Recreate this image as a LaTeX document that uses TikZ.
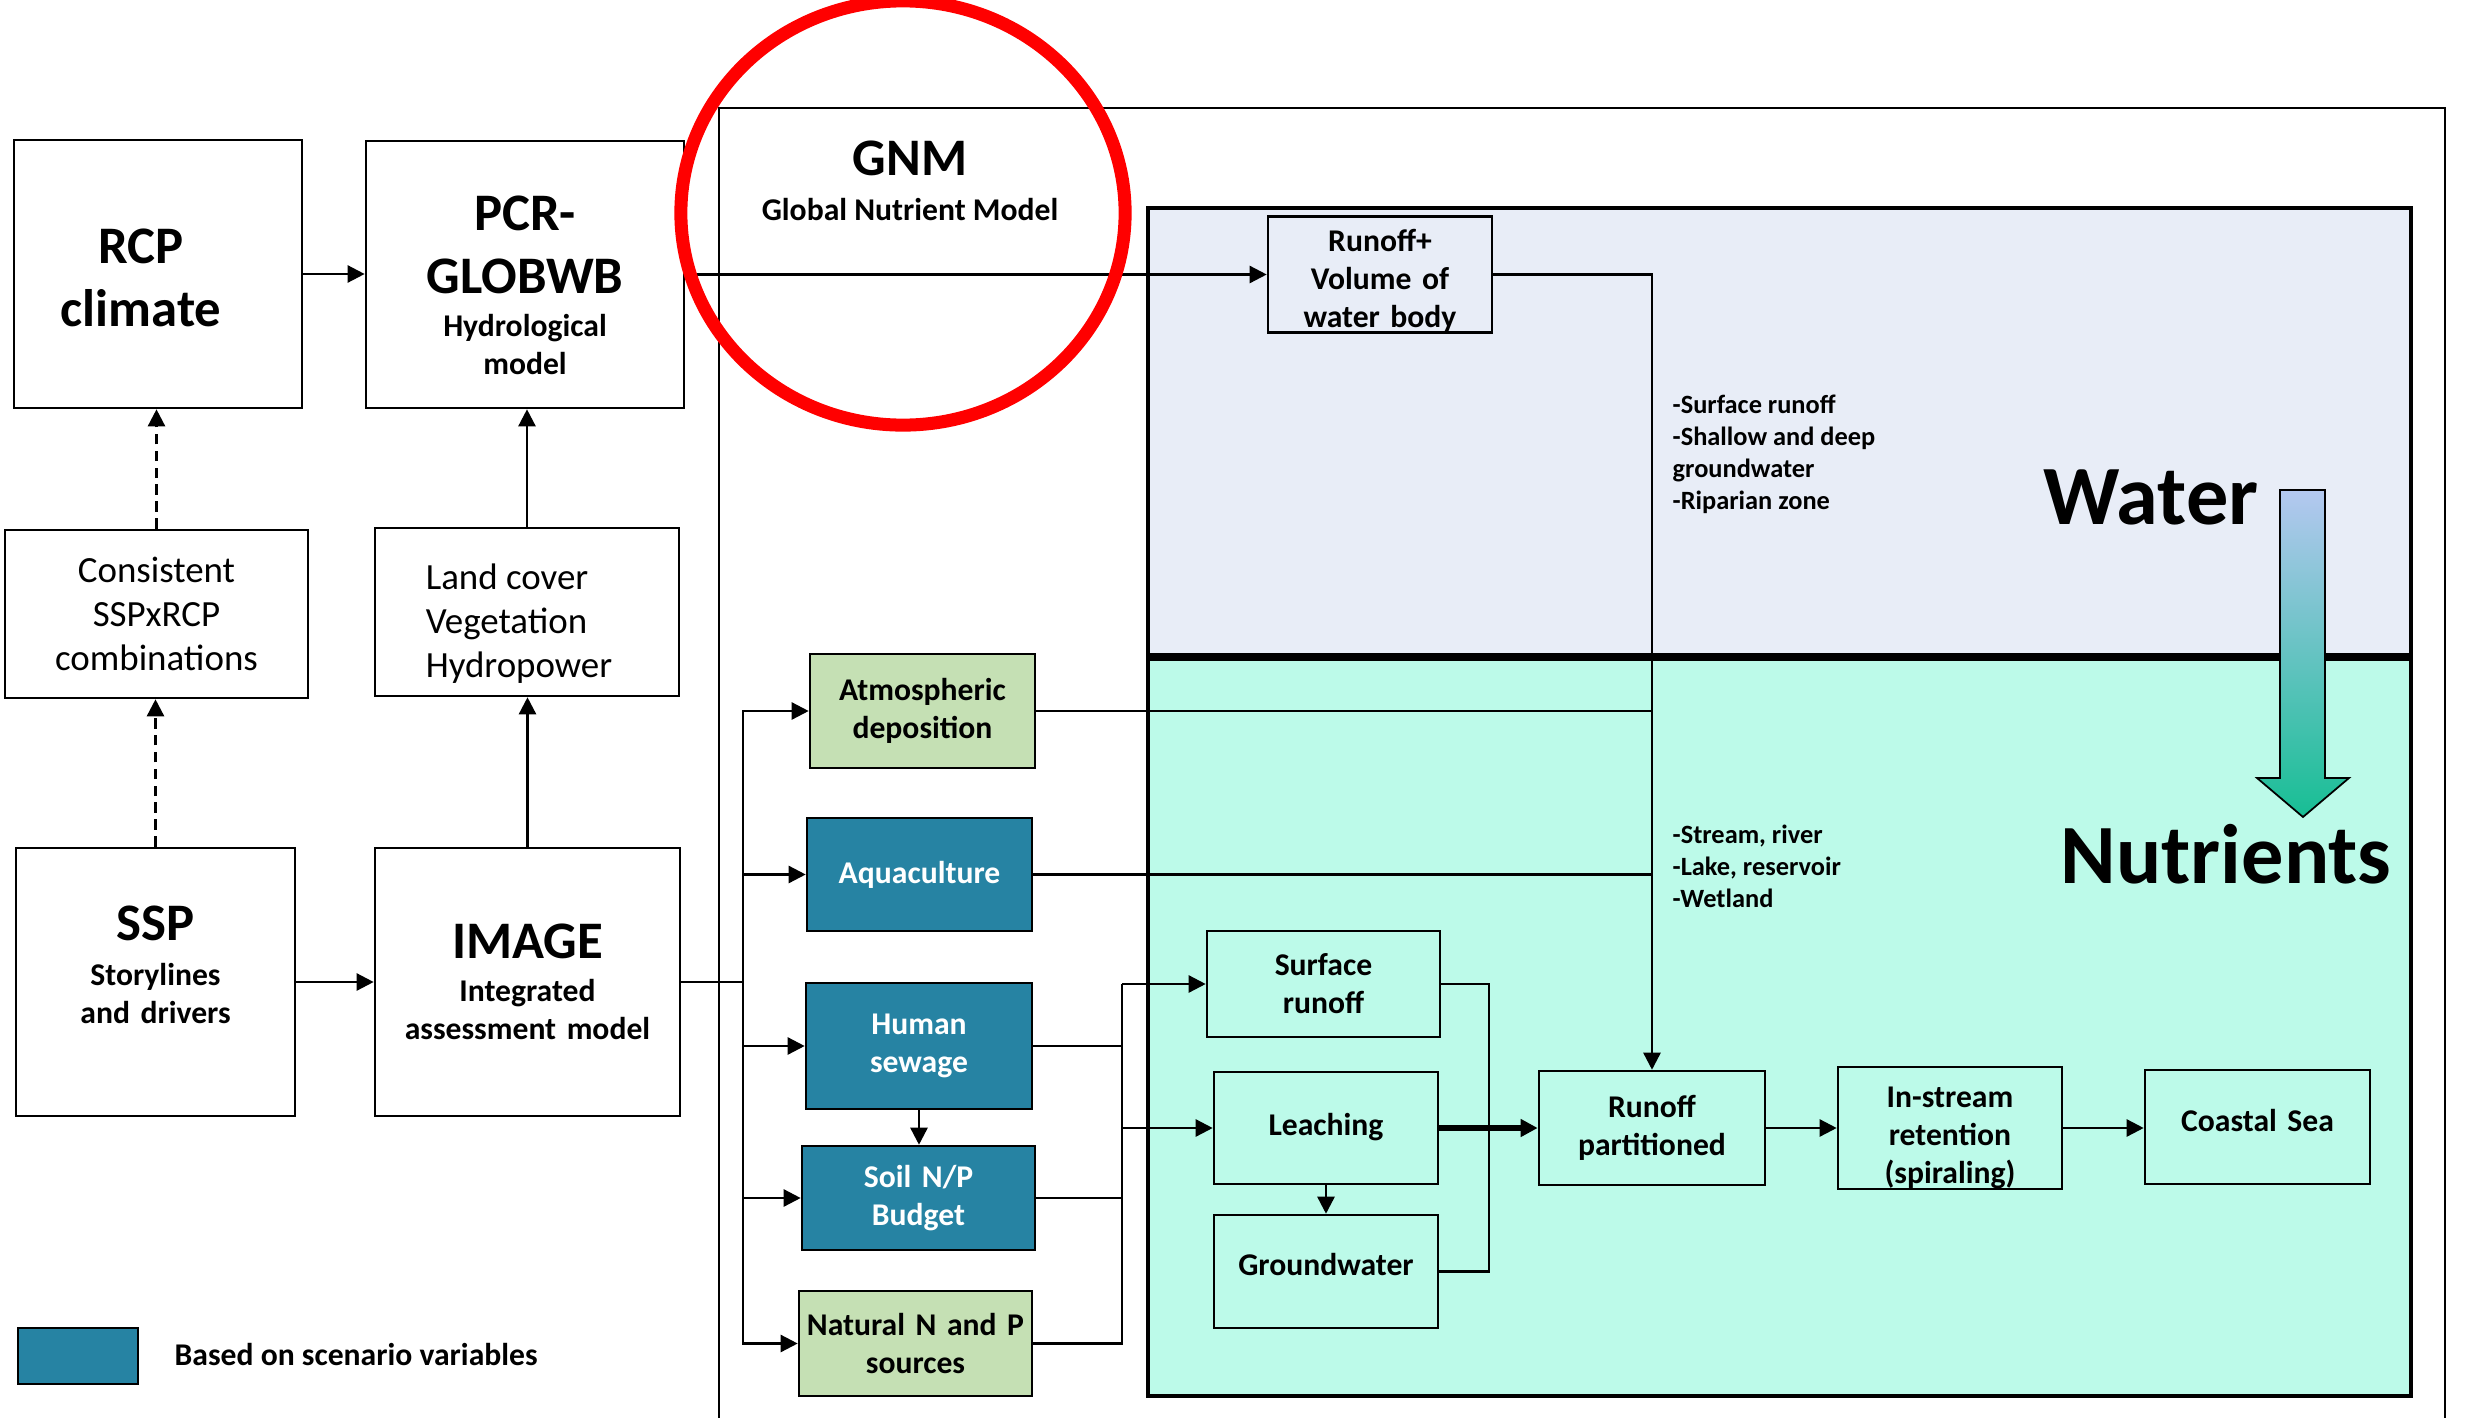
\documentclass[tikz,border=0pt]{standalone}
\usepackage{fontspec}
\setmainfont{Carlito}
\usepackage{tikz}
\usetikzlibrary{arrows.meta}
\newcommand\titlefont{\fontsize{15}{18}\selectfont\bfseries}
\newcommand\subfont{\fontsize{9}{10.8}\selectfont\bfseries}
\newcommand\boxfont{\fontsize{9}{10.8}\selectfont\bfseries}
\newcommand\plainfont{\fontsize{10.5}{12.6}\selectfont}
\newcommand\listfont{\fontsize{7.5}{9.1}\selectfont\bfseries}
\newcommand\hugefont{\fontsize{24}{28}\selectfont\bfseries}
\newcommand\upstrut[1]{\rule{0pt}{#1}}
\newcommand\downstrut[1]{\rule[-#1]{0pt}{#1}}
\definecolor{scen}{HTML}{2683A3}
\definecolor{natgreen}{HTML}{C5E0B4}
\definecolor{waterbg}{HTML}{E8EDF7}
\definecolor{nutbg}{HTML}{BCFAE9}
\definecolor{arrtop}{HTML}{B4C8F0}
\definecolor{arrbot}{HTML}{17BE94}
\tikzset{
  blk/.style 2 args={draw,line width=0.7pt,inner sep=0pt,align=center,
    text width=#1,minimum height=#2,font=\boxfont},
  flow/.style={line width=0.7pt,-{Triangle[length=1.7mm,width=1.7mm]}},
  wire/.style={line width=0.7pt},
  scenbox/.style={fill=scen,text=white},
  greenbox/.style={fill=natgreen},
  lst/.style={font=\listfont,align=left,anchor=west,inner sep=0pt},
}
\begin{document}
\begin{tikzpicture}[x=0.01cm,y=-0.01cm]
  \useasboundingbox (0,0) rectangle (2465,1418);
  \draw[wire] (719,1418) -- (719,108) -- (2445,108) -- (2445,1418);
  \draw[line width=0.9pt,fill=waterbg] (1148,208) rectangle (2411,655);
  \draw[line width=0.9pt,fill=nutbg] (1148,659) rectangle (2411,1396);

  \node[blk={2.88cm}{2.68cm},font=\titlefont] (rcp) at (158,274)
    {\upstrut{12pt}RCP\kern.34cm\\climate\kern.34cm};
  \node[blk={3.18cm}{2.67cm}] (pcr) at (525,274.5)
    {{\titlefont\upstrut{16pt}PCR-\\GLOBWB\par}\vskip1.4pt{\subfont Hydrological\\model\par}};
  \node[blk={3.03cm}{1.68cm},font=\plainfont] (combi) at (156.5,614)
    {Consistent\\SSPxRCP\\combinations};
  \node[draw,line width=0.7pt,minimum width=3.04cm,minimum height=1.68cm,
    align=left,font=\plainfont] (landuse) at (527,612)
    {\upstrut{14pt}Land cover\\Vegetation\\Hydropower\kern.16cm};
  \node[blk={2.79cm}{2.68cm}] (ssp) at (155.5,982)
    {{\titlefont SSP\par}\vskip2pt{\subfont Storylines\\and drivers\downstrut{10pt}\par}};
  \node[blk={3.05cm}{2.68cm}] (image) at (527.5,982)
    {{\titlefont IMAGE\par}\vskip1.4pt{\subfont Integrated\\assessment model\par}};

  \node[font=\titlefont] (gnm) at (910,158) {GNM};
  \node[font=\subfont] (gnmsub) at (910,210) {Global Nutrient Model};

  \node[blk={2.24cm}{1.13cm},fill=waterbg] (runvol) at (1380,274.5)
    {\upstrut{10pt}Runoff+\\Volume of\\water body};
  \node[blk={2.25cm}{1.14cm},greenbox] (atm) at (922.5,711) {Atmospheric\\deposition};
  \node[blk={2.25cm}{1.13cm},scenbox] (aqua) at (919.5,874.5) {Aquaculture};
  \node[blk={2.26cm}{1.26cm},scenbox] (sewage) at (919,1046) {Human\\sewage};
  \node[blk={2.33cm}{1.04cm},scenbox] (soil) at (918.5,1198) {Soil N/P\\Budget};
  \node[blk={2.33cm}{1.05cm},greenbox] (natural) at (915.5,1343.5) {Natural N and P\\sources};
  \node[blk={2.33cm}{1.06cm}] (surf) at (1323.5,984) {Surface\\runoff};
  \node[blk={2.24cm}{1.12cm}] (leach) at (1326,1128) {Leaching\downstrut{2pt}};
  \node[blk={2.24cm}{1.13cm}] (gw) at (1326,1271.5) {Groundwater\downstrut{4pt}};
  \node[blk={2.26cm}{1.14cm}] (runpart) at (1652,1128) {Runoff\\partitioned};
  \node[blk={2.24cm}{1.14cm}] (instream) at (1950,1128)
    {\upstrut{11.5pt}In-stream\\retention\\(spiraling)};
  \node[blk={2.25cm}{1.14cm}] (coast) at (2257.5,1127) {Coastal Sea\downstrut{4pt}};

  \node[lst] (wlist) at (1672,454) {-Surface runoff\\-Shallow and deep\\groundwater\\-Riparian zone};
  \node[lst] (nlist) at (1672,866.5) {-Stream, river\\-Lake, reservoir\\-Wetland};
  \node[font=\hugefont] (water) at (2151,497) {Water};
  \node[font=\hugefont] (nutr) at (2226,854) {Nutrients};
  \shadedraw[top color=arrtop,bottom color=arrbot,middle color=arrtop!50!arrbot,line width=0.5pt]
    (2280,490) -- (2325,490) -- (2325,778) -- (2349,778) -- (2303,817) -- (2257,778) -- (2280,778) -- cycle;

  \node[draw,line width=0.7pt,fill=scen,minimum width=1.2cm,minimum height=0.56cm] (legbox) at (78,1356) {};
  \node[font=\subfont,anchor=west,inner sep=0pt] (legtxt) at (174,1355) {Based on scenario variables};

  \draw[flow] (rcp.east) -- (rcp.east -| pcr.west);
  \draw[flow,dash pattern=on 3pt off 1.8pt] (combi.north) -- (combi.north |- rcp.south);
  \draw[flow,dash pattern=on 3pt off 1.8pt] (ssp.north) -- (ssp.north |- combi.south);
  \draw[flow] (landuse.north) -- (landuse.north |- pcr.south);
  \draw[flow] (image.north) -- (image.north |- landuse.south);
  \draw[flow] (ssp.east) -- (ssp.east -| image.west);
  \draw[flow] (pcr.east) -- (pcr.east -| runvol.west);
  \draw[flow] (runvol.east) -| (runpart.north);
  \draw[wire] (atm.east) -- (atm.east -| runpart.north);
  \draw[wire] (aqua.east) -- (aqua.east -| runpart.north);
  \coordinate (fork) at (743,982);
  \draw[wire] (image.east) -- (fork);
  \foreach \n in {atm,aqua,sewage,soil,natural} \draw[flow] (fork) |- (\n.west);
  \coordinate (bus) at (1122,984);
  \foreach \n in {sewage,soil} \draw[wire] (\n.east) -- (\n.east -| bus);
  \draw[wire] (natural.east) -- (natural.east -| bus) -- (bus);
  \draw[flow] (bus) -- (surf.west);
  \draw[flow] (bus |- leach.west) -- (leach.west);
  \draw[flow] (sewage.south) -- (sewage.south |- soil.north);
  \draw[flow] (leach.south) -- (leach.south |- gw.north);
  \coordinate (merge) at (1489,1128);
  \draw[wire] (surf.east) -| (merge);
  \draw[wire] (gw.east) -| (merge);
  \draw[flow,line width=1.6pt] (leach.east) -- (runpart.west);
  \draw[flow] (runpart.east) -- (instream.west);
  \draw[flow] (instream.east) -- (instream.east -| coast.west);

  \draw[red,line width=3.7pt] (903,213) ellipse [x radius=2.22cm,y radius=2.12cm];
\end{tikzpicture}
\end{document}
